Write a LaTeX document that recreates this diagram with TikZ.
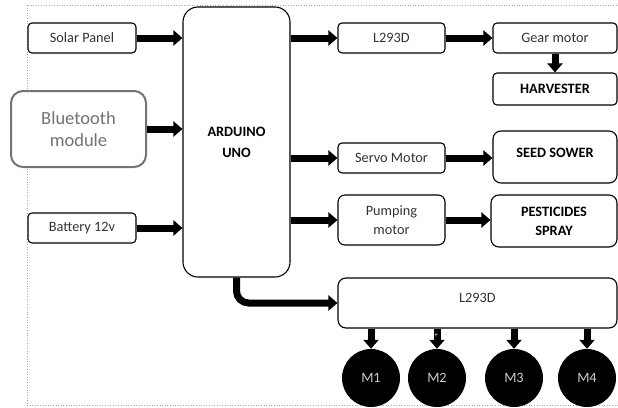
\documentclass[tikz,border=0pt]{standalone}
\usepackage{fontspec}
\setmainfont{Carlito}
\usetikzlibrary{arrows.meta}
\begin{document}
\begin{tikzpicture}[x=1pt,y=-1pt,
  box/.style={draw=black, line width=1.1pt, rounded corners=4pt, fill=white, font=\fontsize{14.3}{17}\selectfont, text=black!80, align=center, inner sep=0pt},
  bbox/.style={box, font=\fontsize{14.3}{17}\selectfont\bfseries, text=black},
  motor/.style={circle, fill=black, draw=none, minimum size=58pt, inner sep=0pt, text=white!80!black, font=\fontsize{14.3}{17}\selectfont},
  fat/.style={line width=7pt, -{Triangle[length=9pt,width=15pt]}, black}
]
\useasboundingbox (0,0) rectangle (618,407);
\fill[white] (0,0) rectangle (618,407);
% dotted frame
\draw[black!35, dotted, line width=0.6pt] (28,5) -- (618,5);
\draw[black!35, dotted, line width=0.6pt] (27,5) -- (27,407);
\draw[black!35, dotted, line width=0.6pt] (27,405) -- (618,405);

% left boxes
\node[box, minimum width=108pt, minimum height=30pt] (solar) at (82,38) {Solar Panel};
\node[box, draw=black!55, line width=2pt, rounded corners=12pt, text=black!55, minimum width=135pt, minimum height=76pt, font=\fontsize{18.5}{22}\selectfont] (bt) at (78.5,129) {Bluetooth\\module};
\node[box, minimum width=108pt, minimum height=30pt] (bat) at (82,228) {Battery 12v};

% Arduino
\node[bbox, rounded corners=15pt, minimum width=107pt, minimum height=270pt] (ard) at (236.5,142) {ARDUINO\\[4pt]UNO};

% middle column
\node[box, minimum width=107pt, minimum height=30pt] (la) at (391.5,38) {L293D};
\node[box, minimum width=107pt, minimum height=30pt] (servo) at (391.5,158) {Servo Motor};
\node[box, rounded corners=7pt, minimum width=107pt, minimum height=50pt] (pump) at (391.5,220) {Pumping\\[2pt]motor};

% right column
\node[box, minimum width=124pt, minimum height=30pt] (gear) at (555,38) {Gear motor};
\node[bbox, minimum width=124pt, minimum height=32pt] (harv) at (555,89) {HARVESTER};
\node[box, rounded corners=8pt, minimum width=124pt, minimum height=52pt,
  label={[bbox, draw=none, fill=none, anchor=center, yshift=4pt]center:SEED SOWER}] (seed) at (555,157) {};
\node[bbox, rounded corners=8pt, minimum width=126pt, minimum height=52pt] (pest) at (554,221) {PESTICIDES\\[2pt]SPRAY};

% bottom driver
\node[box, rounded corners=8pt, minimum width=279pt, minimum height=50pt,
  label={[box, draw=none, fill=none, anchor=center, yshift=5pt]center:L293D}] (lb) at (477.5,303) {};

% motors
\node[motor] (m1) at (371,378) {M1};
\node[motor] (m2) at (437,378) {M2};
\node[motor] (m3) at (514,378) {M3};
\node[motor] (m4) at (587,378) {M4};

% connectors
\draw[fat] (solar.east) -- (ard.west |- solar.east);
\draw[fat] (bt.east) -- (ard.west |- bt.east);
\draw[fat] (bat.east) -- (ard.west |- bat.east);
\draw[fat] (ard.east |- la.west) -- (la.west);
\draw[fat] (ard.east |- servo.west) -- (servo.west);
\draw[fat] (ard.east |- pump.west) -- (pump.west);
\draw[fat] (la.east) -- (gear.west);
\draw[fat] (gear.south) -- (harv.north);
\draw[fat] (servo.east) -- (seed.west |- servo.east);
\draw[fat] (pump.east) -- (pest.west |- pump.east);
\draw[fat, rounded corners=12pt] (ard.south) -- (ard.south |- lb.west) -- (lb.west);
\draw[fat] (lb.south -| m1.north) -- (m1.north);
\draw[fat] (lb.south -| m2.north) -- (m2.north);
\draw[fat] (lb.south -| m3.north) -- (m3.north);
\draw[fat] (lb.south -| m4.north) -- (m4.north);
\node[text=white, font=\fontsize{7}{8}\selectfont, inner sep=0pt] (plus) at (436,336) {+};
\end{tikzpicture}
\end{document}
